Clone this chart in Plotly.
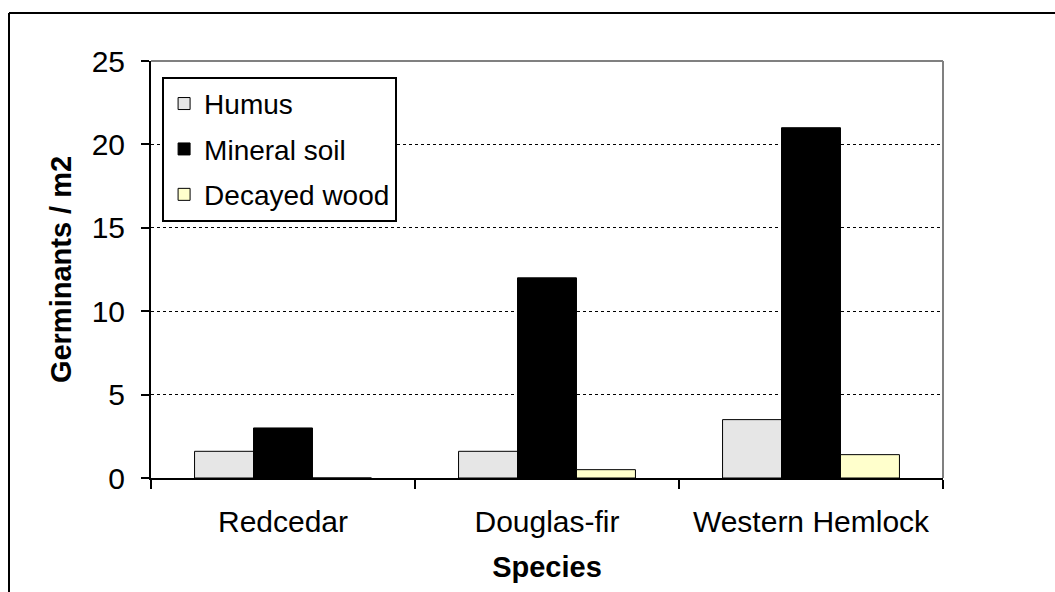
import plotly.graph_objects as go

species = ["Redcedar", "Douglas-fir", "Western Hemlock"]
humus = [1.6, 1.6, 3.5]
mineral_soil = [3.0, 12.0, 21.0]
decayed_wood = [0.0, 0.5, 1.4]
y_ticks = [0, 5, 10, 15, 20, 25]

FONT = "Arial, Liberation Sans, sans-serif"

fig = go.Figure()
fig.add_trace(go.Bar(name="Humus", x=species, y=humus, legendgroup="a",
                     marker=dict(color="#E6E6E6", line=dict(color="black", width=1))))
fig.add_trace(go.Bar(name="Mineral soil", x=species, y=mineral_soil, legendgroup="b",
                     marker=dict(color="black", line=dict(color="black", width=1))))
fig.add_trace(go.Bar(name="Decayed wood", x=species, y=decayed_wood, legendgroup="c",
                     marker=dict(color="#FFFFCC", line=dict(color="black", width=1))))

fig.update_layout(
    width=1055, height=592,
    margin=dict(l=151, r=112, t=61, b=114),
    paper_bgcolor="white", plot_bgcolor="white",
    font=dict(family=FONT, size=28, color="black"),
    barmode="group", bargap=0.33, bargroupgap=0,
    showlegend=True,
    legend=dict(x=0.014, y=0.962, xanchor="left", yanchor="top",
                bordercolor="black", borderwidth=2, bgcolor="white",
                font=dict(size=28), tracegroupgap=6, traceorder="grouped",
                itemwidth=30),
    xaxis=dict(showline=True, linecolor="black", linewidth=2,
               ticks="outside", tickson="boundaries", ticklen=9, tickwidth=2,
               tickcolor="black", showgrid=False, tickfont=dict(size=30),
               ticklabelstandoff=16,
               title=dict(text="<b>Species</b>", standoff=20, font=dict(size=29))),
    yaxis=dict(range=[0, 25], tickvals=y_ticks, showline=True, linecolor="black",
               linewidth=2, ticks="outside", ticklen=8, tickwidth=2, tickcolor="black",
               showgrid=True, gridcolor="black", griddash="dot", gridwidth=1,
               zeroline=False, ticklabelstandoff=10, tickfont=dict(size=30),
               title=dict(text="<b>Germinants / m2</b>", standoff=11, font=dict(size=29))),
    shapes=[
        dict(type="line", xref="paper", yref="paper", x0=0, x1=1, y0=1, y1=1,
             line=dict(color="#808080", width=2)),
        dict(type="line", xref="paper", yref="paper", x0=1, x1=1, y0=0, y1=1,
             line=dict(color="#808080", width=2)),
        dict(type="line", xref="paper", yref="paper", x0=(9 - 151) / 792, x1=(1060 - 151) / 792,
             y0=(478 - 13) / 417, y1=(478 - 13) / 417, line=dict(color="black", width=2)),
        dict(type="line", xref="paper", yref="paper", x0=(9 - 151) / 792, x1=(9 - 151) / 792,
             y0=(478 - 13) / 417, y1=-0.3, line=dict(color="black", width=2)),
    ],
)

fig.write_html("out.html")
